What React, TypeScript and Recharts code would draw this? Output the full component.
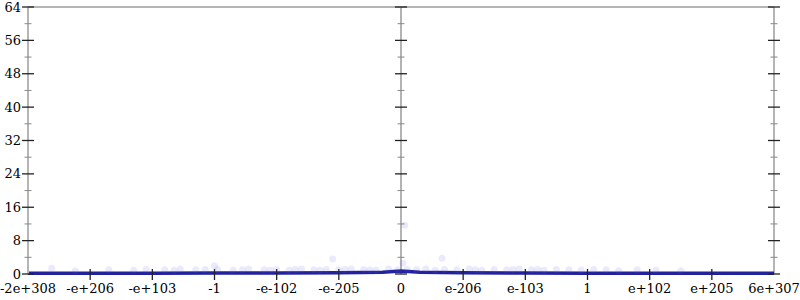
import React from "react";
import {
    ComposedChart,
    Line,
    Scatter,
    XAxis,
    YAxis,
    ReferenceLine,
} from "recharts";

// x positions are evenly spaced slots, one per tick label
const xTickLabels = [
    "-2e+308",
    "-e+206",
    "-e+103",
    "-1",
    "-e-102",
    "-e-205",
    "0",
    "e-206",
    "e-103",
    "1",
    "e+102",
    "e+205",
    "6e+307",
];
const xTicks = [0, 1, 2, 3, 4, 5, 6, 7, 8, 9, 10, 11, 12];
const yMajorTicks = [0, 8, 16, 24, 32, 40, 48, 56, 64];
const yMinorTicks = [4, 12, 20, 28, 36, 44, 52, 60];
const axisColumns = [0, 6, 12];

// faint sample points
const pointX = [
    0.38, 0.76, 1.3, 1.7, 1.9, 2.2, 2.35, 2.45, 2.7, 2.85, 3.0, 3.05, 3.3, 3.45,
    3.55, 3.8, 3.9, 4.0, 4.2, 4.3, 4.4, 4.6, 4.7, 4.8, 4.9, 5.0, 5.1, 5.2, 5.4,
    5.5, 5.6, 5.8, 5.95, 6.03, 6.06, 6.1, 6.25, 6.4, 6.55, 6.66, 6.7, 6.9, 7.1,
    7.2, 7.3, 7.5, 7.7, 7.8, 7.9, 8.1, 8.2, 8.3, 8.5, 8.7, 8.9, 9.1, 9.3, 9.5,
    9.8, 10.1, 10.5,
];
const pointY = [
    1.4, 0.7, 1.0, 0.9, 1.1, 1.0, 0.9, 1.2, 1.0, 1.1, 1.9, 1.1, 0.9, 1.0, 1.2,
    1.0, 0.9, 1.1, 0.9, 1.1, 1.2, 1.0, 0.9, 1.1, 3.6, 1.0, 1.1, 1.2, 1.1, 1.0,
    0.9, 1.2, 1.0, 2.6, 11.7, 1.1, 1.0, 1.2, 0.9, 3.8, 1.1, 1.0, 1.2, 1.0, 0.9,
    1.1, 1.0, 1.1, 1.2, 1.0, 1.1, 0.9, 1.1, 1.0, 0.9, 1.1, 1.0, 0.8, 1.0, 0.9,
    0.8,
];

// dark count line along the bottom
const lineX = [0, 1, 2, 3, 4, 5, 5.7, 6, 6.3, 7, 8, 9, 10, 11, 12];
const lineY = [0.2, 0.2, 0.2, 0.25, 0.25, 0.3, 0.4, 0.7, 0.4, 0.3, 0.25, 0.2, 0.2, 0.2, 0.2];

const points = pointX.map((x, i) => ({ x, y: pointY[i] }));
const lineData = lineX.map((x, i) => ({ x, y: lineY[i] }));
const majorMarks = axisColumns.flatMap((x) => yMajorTicks.map((y) => ({ x, y })));
const minorMarks = axisColumns.flatMap((x) => yMinorTicks.map((y) => ({ x, y })));
const xMarks = xTicks.slice(1, -1).filter((x) => x !== 6).map((x) => ({ x, y: 0 }));

const FONT = "'DejaVu Serif', serif";

const XTick = (p: any) => (
    <text x={p.x} y={p.y + 11} textAnchor="middle" style={{ fontFamily: FONT }} fontSize={13} fill="#000">
        {xTickLabels[p.payload.value]}
    </text>
);
const YTick = (p: any) => (
    <text x={21} y={p.y + 4.5} textAnchor="end" style={{ fontFamily: FONT }} fontSize={13} fill="#000">
        {p.payload.value}
    </text>
);

const MajorMark = (p: any) => (
    <line x1={p.cx - 6} x2={p.cx + 6} y1={p.cy} y2={p.cy} stroke="#222" strokeWidth={1.3} />
);
const MinorMark = (p: any) => (
    <line x1={p.cx - 3.5} x2={p.cx + 3.5} y1={p.cy} y2={p.cy} stroke="#888" strokeWidth={1} />
);
const XMark = (p: any) => (
    <line x1={p.cx} x2={p.cx} y1={p.cy - 5} y2={p.cy + 6} stroke="#222" strokeWidth={1.3} />
);
const Dot = (p: any) => (
    <circle cx={p.cx} cy={p.cy} r={3.5} fill="#5a5ae6" fillOpacity={0.13} />
);

export default function App() {
    return (
        <div style={{ position: "fixed", left: 0, top: 0, background: "#fff" }}>
            <ComposedChart
                width={800}
                height={300}
                margin={{ top: 7, right: 26, bottom: 0, left: 0 }}
            >
                <XAxis
                    dataKey="x"
                    type="number"
                    domain={[0, 12]}
                    ticks={xTicks}
                    interval={0}
                    height={26}
                    axisLine={false}
                    tickLine={false}
                    tick={<XTick />}
                />
                <YAxis
                    dataKey="y"
                    type="number"
                    domain={[0, 64]}
                    ticks={yMajorTicks}
                    interval={0}
                    width={28}
                    axisLine={{ stroke: "#b5b5b5", strokeWidth: 2 }}
                    tickLine={false}
                    tick={<YTick />}
                />
                <ReferenceLine y={64} stroke="#b5b5b5" strokeWidth={2} />
                <ReferenceLine x={6} stroke="#9a9a9a" strokeWidth={1.5} />
                <ReferenceLine x={12} stroke="#b5b5b5" strokeWidth={2} />
                <Scatter data={minorMarks} shape={MinorMark} isAnimationActive={false} />
                <Scatter data={majorMarks} shape={MajorMark} isAnimationActive={false} />
                <Scatter data={xMarks} shape={XMark} isAnimationActive={false} />
                <Scatter data={points} shape={Dot} isAnimationActive={false} />
                <Line
                    data={lineData}
                    dataKey="y"
                    type="linear"
                    stroke="#22229c"
                    strokeWidth={3.5}
                    dot={false}
                    isAnimationActive={false}
                />
            </ComposedChart>
        </div>
    );
}
